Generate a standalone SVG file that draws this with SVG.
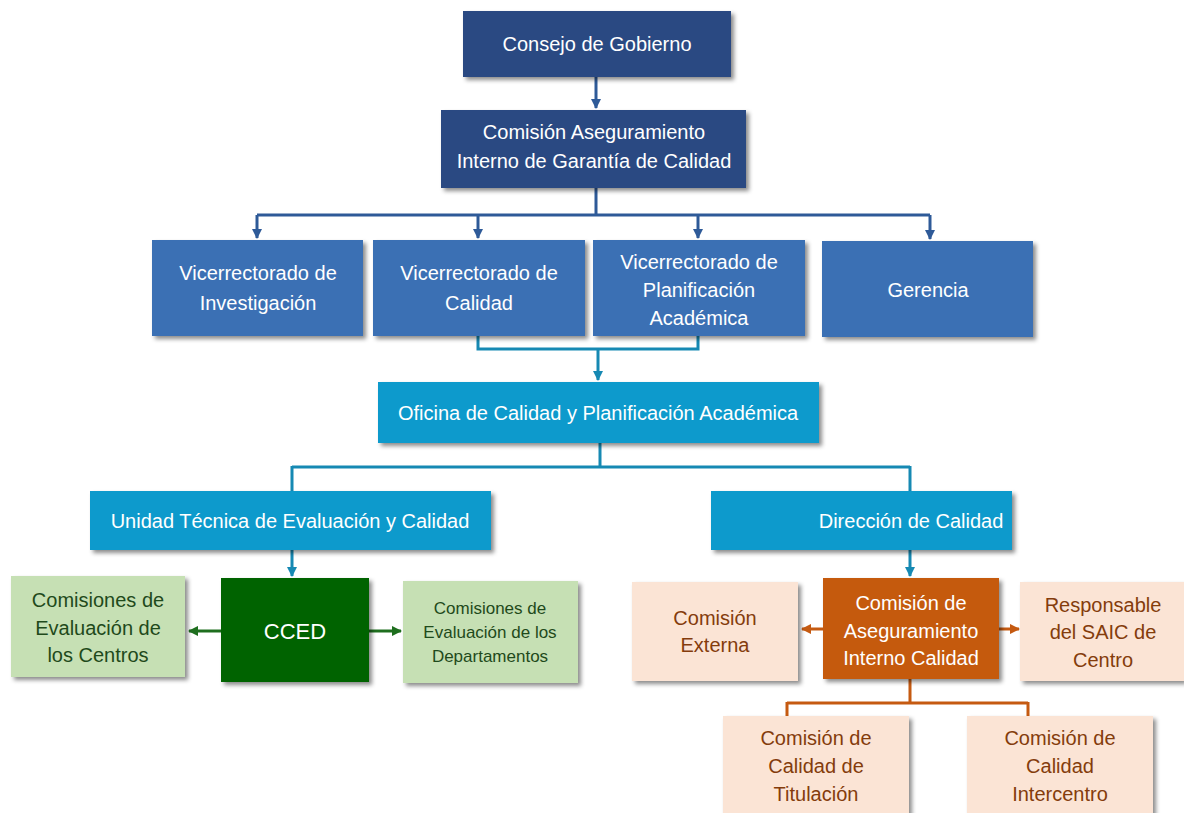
<svg xmlns="http://www.w3.org/2000/svg" width="1184" height="813" viewBox="0 0 1184 813">
<defs>
<filter id="sh" x="-10%" y="-10%" width="130%" height="140%"><feDropShadow dx="3" dy="3" stdDeviation="2" flood-color="#000" flood-opacity="0.45"/></filter>
<marker id="ab" viewBox="0 0 10 10" refX="9" refY="5" markerWidth="3.5" markerHeight="3.5" orient="auto"><path d="M0,0L10,5L0,10z" fill="#2E5A98"/></marker>
<marker id="at" viewBox="0 0 10 10" refX="9" refY="5" markerWidth="3.5" markerHeight="3.5" orient="auto"><path d="M0,0L10,5L0,10z" fill="#1689B3"/></marker>
<marker id="ag" viewBox="0 0 10 10" refX="9" refY="5" markerWidth="3.5" markerHeight="3.5" orient="auto"><path d="M0,0L10,5L0,10z" fill="#1E6E1E"/></marker>
<marker id="ao" viewBox="0 0 10 10" refX="9" refY="5" markerWidth="3.5" markerHeight="3.5" orient="auto"><path d="M0,0L10,5L0,10z" fill="#C55A11"/></marker>
</defs>
<style>
text{font-family:"Liberation Sans",Arial,sans-serif;font-size:20px;text-anchor:middle}
.w{fill:#fff}
.navy{fill:#2C4A82}
.blue{fill:#3A70B4}
.cyan{fill:#0A9ACC}
.dg{fill:#006400}
.lg{fill:#C6E0B4}
.or{fill:#C55A11}
.pe{fill:#FBE4D5}
.tg{fill:#1F4A1B}
.to{fill:#843C0C}
.box{filter:url(#sh)}
.cb{fill:none;stroke:#2E5A98;stroke-width:3}
.ct{fill:none;stroke:#1689B3;stroke-width:3}
.cg{fill:none;stroke:#1E6E1E;stroke-width:3}
.co{fill:none;stroke:#C55A11;stroke-width:3}
</style>
<rect width="1184" height="813" fill="#fff"/>
<g id="connectors">
<path class="cb" d="M596,77V108" marker-end="url(#ab)"/>
<path class="cb" d="M596,188V215M257,215H930"/>
<path class="cb" d="M257,215V238" marker-end="url(#ab)"/>
<path class="cb" d="M478,215V238" marker-end="url(#ab)"/>
<path class="cb" d="M698,215V238" marker-end="url(#ab)"/>
<path class="cb" d="M930,215V239" marker-end="url(#ab)"/>
<path class="ct" d="M478,336V349H698V336"/>
<path class="ct" d="M598,349V380" marker-end="url(#at)"/>
<path class="ct" d="M600,443V467M292,467H910M292,466V491M910,466V491"/>
<path class="ct" d="M292,550V576" marker-end="url(#at)"/>
<path class="ct" d="M910,550V576" marker-end="url(#at)"/>
<path class="cg" d="M221,631H189" marker-end="url(#ag)"/>
<path class="cg" d="M369,631H401" marker-end="url(#ag)"/>
<path class="co" d="M823,629H802" marker-end="url(#ao)"/>
<path class="co" d="M999,629H1019" marker-end="url(#ao)"/>
<path class="co" d="M910,679V703M787,703H1028M787,702V716M1028,702V716"/>
</g>
<g id="consejo"><rect class="navy box" x="463" y="11" width="268" height="66"/><text class="w" x="597" y="51">Consejo de Gobierno</text></g>
<g id="comision-asic"><rect class="navy box" x="441" y="110" width="305" height="78"/><text class="w" x="594" y="139">Comisión Aseguramiento</text><text class="w" x="594" y="168">Interno de Garantía de Calidad</text></g>
<g id="vic-investigacion"><rect class="blue box" x="152" y="240" width="211" height="96"/><text class="w" x="258" y="280">Vicerrectorado de</text><text class="w" x="258" y="310">Investigación</text></g>
<g id="vic-calidad"><rect class="blue box" x="373" y="240" width="212" height="96"/><text class="w" x="479" y="280">Vicerrectorado de</text><text class="w" x="479" y="310">Calidad</text></g>
<g id="vic-planificacion"><rect class="blue box" x="593" y="240" width="212" height="96"/><text class="w" x="699" y="269">Vicerrectorado de</text><text class="w" x="699" y="297">Planificación</text><text class="w" x="699" y="325">Académica</text></g>
<g id="gerencia"><rect class="blue box" x="822" y="241" width="211" height="96"/><text class="w" x="928" y="297">Gerencia</text></g>
<g id="oficina"><rect class="cyan box" x="378" y="382" width="441" height="61"/><text class="w" x="598" y="420">Oficina de Calidad y Planificación Académica</text></g>
<g id="unidad"><rect class="cyan box" x="90" y="491" width="401" height="59"/><text class="w" x="290" y="528">Unidad Técnica de Evaluación y Calidad</text></g>
<g id="direccion"><rect class="cyan box" x="711" y="491" width="301" height="59"/><text class="w" x="911" y="528">Dirección de Calidad</text></g>
<g id="cced"><rect class="dg box" x="221" y="578" width="148" height="104"/><text class="w" x="295" y="639" style="font-size:22px">CCED</text></g>
<g id="com-centros"><rect class="lg box" x="11" y="576" width="174" height="101"/><text class="tg" x="98" y="607">Comisiones de</text><text class="tg" x="98" y="635">Evaluación de</text><text class="tg" x="98" y="662">los Centros</text></g>
<g id="com-departamentos"><rect class="lg box" x="403" y="581" width="175" height="102"/><text class="tg" x="490" y="614" style="font-size:17px">Comisiones de</text><text class="tg" x="490" y="638" style="font-size:17px">Evaluación de los</text><text class="tg" x="490" y="662" style="font-size:17px">Departamentos</text></g>
<g id="com-aseg-interno"><rect class="or box" x="823" y="578" width="176" height="101"/><text class="w" x="911" y="610">Comisión de</text><text class="w" x="911" y="638">Aseguramiento</text><text class="w" x="911" y="665">Interno Calidad</text></g>
<g id="com-externa"><rect class="pe box" x="632" y="582" width="166" height="99"/><text class="to" x="715" y="625">Comisión</text><text class="to" x="715" y="652">Externa</text></g>
<g id="responsable"><rect class="pe box" x="1020" y="582" width="164" height="99"/><text class="to" x="1103" y="612">Responsable</text><text class="to" x="1103" y="639">del SAIC de</text><text class="to" x="1103" y="667">Centro</text></g>
<g id="com-titulacion"><rect class="pe box" x="723" y="716" width="186" height="100"/><text class="to" x="816" y="745">Comisión de</text><text class="to" x="816" y="773">Calidad de</text><text class="to" x="816" y="801">Titulación</text></g>
<g id="com-intercentro"><rect class="pe box" x="967" y="716" width="186" height="100"/><text class="to" x="1060" y="745">Comisión de</text><text class="to" x="1060" y="773">Calidad</text><text class="to" x="1060" y="801">Intercentro</text></g>
</svg>
